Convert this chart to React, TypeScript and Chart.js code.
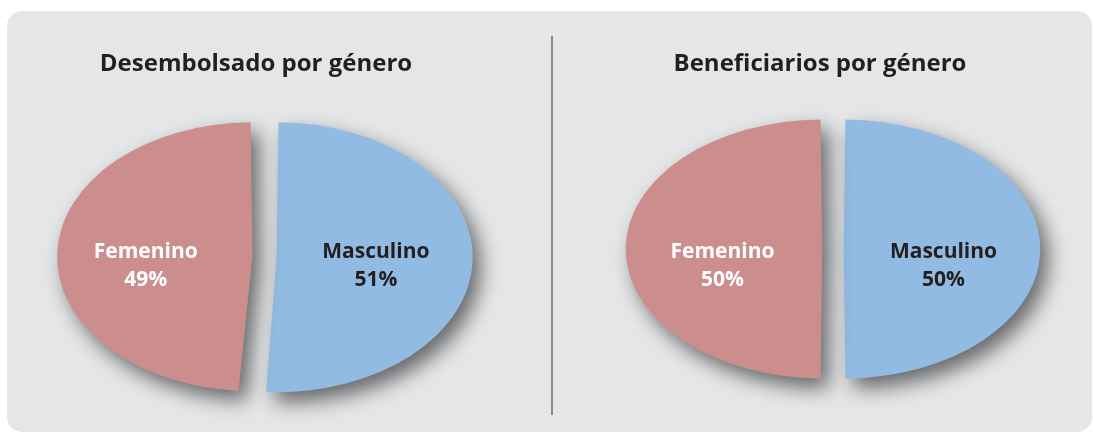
import React, { useEffect, useRef } from "react";
import { Chart, registerables } from "chart.js";

Chart.register(...registerables);

// ---------- data ----------
const categories = ["Masculino", "Femenino"];
const disbursedTitle = "Desembolsado por género";
const disbursedValues = [51, 49];
const beneficiariesTitle = "Beneficiarios por género";
const beneficiariesValues = [50, 50];

// ---------- styles ----------
const sliceColors = ["#91bbe2", "#cc8e8c"];
const labelColors = ["#231f20", "#ffffff"];
const FONT = "'Open Sans', 'Noto Sans', sans-serif";

type PieSetup = {
  title: string;
  values: number[];
  left: number;
  shiftX: number;
  padBottom: number;
  radius: number;
  offset: number;
  scaleX: number;
  labelDy: number;
  labelFrac: number[];
};

const setups: PieSetup[] = [
  {
    title: disbursedTitle,
    values: disbursedValues,
    left: 5.5,
    shiftX: 8.5,
    padBottom: 44.4,
    radius: 126.7,
    offset: 33.3,
    scaleX: 1.452,
    labelDy: 7.5,
    labelFrac: [0.54, 0.58],
  },
  {
    title: beneficiariesTitle,
    values: beneficiariesValues,
    left: 569.5,
    shiftX: 13,
    padBottom: 60.4,
    radius: 122.4,
    offset: 28.4,
    scaleX: 1.517,
    labelDy: 15.5,
    labelFrac: [0.537, 0.537],
  },
];

const ellipsePiePlugin = {
  id: "ellipsePie",
  beforeDatasetsDraw(chart: any, _args: any, opts: any) {
    const arc = chart.getDatasetMeta(0).data[0];
    if (!arc) return;
    const ctx = chart.ctx;
    ctx.save();
    ctx.translate(arc.x + opts.shiftX, arc.y);
    ctx.scale(opts.scaleX, 1);
    ctx.translate(-arc.x, -arc.y);
    ctx.shadowColor = opts.shadowColor;
    ctx.shadowBlur = opts.shadowBlur;
    ctx.shadowOffsetX = opts.shadowX;
    ctx.shadowOffsetY = opts.shadowY;
  },
  afterDatasetsDraw(chart: any, _args: any, opts: any) {
    const ctx = chart.ctx;
    ctx.restore();
    const meta = chart.getDatasetMeta(0);
    const data = chart.data.datasets[0].data;
    const labels = chart.data.labels;
    meta.data.forEach((arc: any, i: number) => {
      const { x, y, startAngle, endAngle, outerRadius } = arc.getProps(
        ["x", "y", "startAngle", "endAngle", "outerRadius"],
        true
      );
      const mid = (startAngle + endAngle) / 2;
      const off = (arc.options.offset || 0) / 4;
      const dist = off + opts.labelFrac[i] * outerRadius;
      const lx = x + opts.shiftX + Math.cos(mid) * dist * opts.scaleX;
      const ly = y + opts.labelDy;
      ctx.save();
      ctx.font = `bold ${opts.labelSize}px ${FONT}`;
      ctx.fillStyle = opts.labelColors[i];
      ctx.textAlign = "center";
      ctx.textBaseline = "alphabetic";
      ctx.fillText(String(labels[i]), lx, ly - 6.5);
      ctx.fillText(`${data[i]}%`, lx, ly + 21);
      ctx.restore();
    });
  },
};

function EllipsePie({ setup }: { setup: PieSetup }) {
  const ref = useRef<HTMLCanvasElement>(null);
  useEffect(() => {
    const chart = new Chart(ref.current as HTMLCanvasElement, {
      type: "pie",
      data: {
        labels: categories,
        datasets: [
          {
            data: setup.values,
            backgroundColor: sliceColors,
            borderWidth: 0,
            offset: setup.offset,
            hoverOffset: 0,
            radius: setup.radius,
            clip: false,
          } as any,
        ],
      },
      options: {
        responsive: false,
        animation: false,
        events: [],
        layout: { padding: { top: 0, bottom: setup.padBottom, left: 0, right: 0 } },
        plugins: {
          legend: { display: false },
          tooltip: { enabled: false },
          title: {
            display: true,
            text: setup.title,
            color: "#231f20",
            font: { family: FONT, size: 24, weight: "bold" },
            padding: { top: 49.6, bottom: 0 },
          },
          ellipsePie: {
            shiftX: setup.shiftX,
            scaleX: setup.scaleX,
            shadowColor: "rgba(0,0,0,0.55)",
            shadowBlur: 20,
            shadowX: 8,
            shadowY: 10,
            labelDy: setup.labelDy,
            labelFrac: setup.labelFrac,
            labelSize: 21,
            labelColors: labelColors,
          },
        } as any,
      },
      plugins: [ellipsePiePlugin as any],
    });
    return () => chart.destroy();
  }, [setup]);
  return (
    <canvas
      ref={ref}
      width={500}
      height={480}
      style={{ position: "absolute", left: setup.left, top: 0 }}
    />
  );
}

export default function App() {
  return (
    <div
      style={{
        position: "absolute",
        left: 0,
        top: 0,
        width: 1093,
        height: 433,
        overflow: "hidden",
        background: "#ffffff",
      }}
    >
      <div
        style={{
          position: "absolute",
          left: 7,
          top: 11,
          width: 1085,
          height: 421,
          borderRadius: 15,
          background: "#e5e6e8",
        }}
      />
      <div
        style={{
          position: "absolute",
          left: 551,
          top: 36,
          width: 2,
          height: 379,
          background: "#8b8b8d",
        }}
      />
      {setups.map((s, i) => (
        <EllipsePie key={i} setup={s} />
      ))}
    </div>
  );
}
